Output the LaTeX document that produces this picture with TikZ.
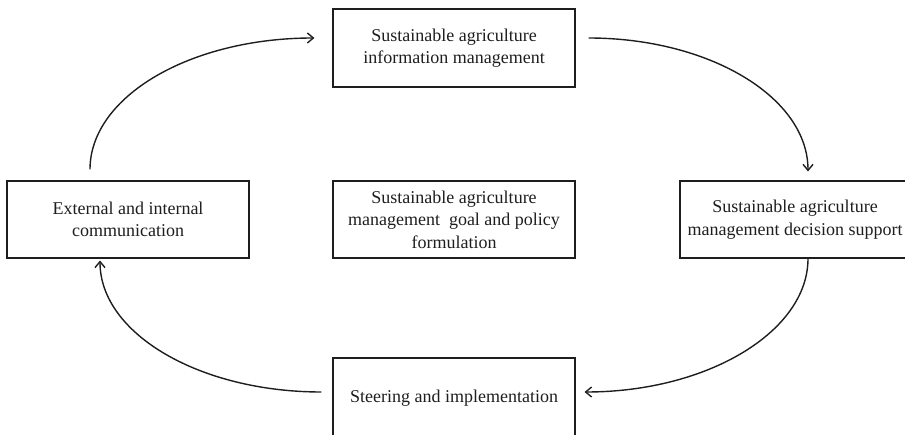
\documentclass[tikz,border=0pt]{standalone}
\usepackage{fontspec}
\setmainfont{Liberation Serif}
\usetikzlibrary{arrows.meta}
\definecolor{ink}{HTML}{1E1E1E}
\tikzset{
  box/.style={draw=ink, line width=1.1pt, text=ink, align=center, inner sep=0pt,
    font=\fontsize{18}{22.5}\selectfont},
  flow/.style={draw=ink, line width=1.4pt, -{Straight Barb[length=6pt,width=10pt]}}
}
\begin{document}
\begin{tikzpicture}[x=1pt,y=-1pt]
\useasboundingbox (0,0) rectangle (905,435);
\node[box, minimum width=242pt, minimum height=78pt] (T) at (454,48)
  {Sustainable agriculture\\information management};
\node[box, minimum width=242pt, minimum height=77pt] (L) at (128,219.5)
  {External and internal\\communication};
\node[box, minimum width=242pt, minimum height=77pt] (M) at (454,219.5)
  {Sustainable agriculture\\management\ \ goal and policy\\formulation};
\node[box, minimum width=230pt, minimum height=77pt] (R) at (795,219.5)
  {Sustainable agriculture\\management decision support};
\node[box, minimum width=242pt, minimum height=80pt] (B) at (454,398)
  {Steering and implementation};
\draw[flow] ([shift={(-38pt,11pt)}]L.north) .. controls +(0,-73) and +(-124,0) .. ([shift={(-18pt,10pt)}]T.west);
\draw[flow] ([shift={(13pt,10pt)}]T.east) .. controls +(121,0) and +(0,-74) .. ([shift={(13pt,9pt)}]R.north);
\draw[flow] ([shift={(13pt,0pt)}]R.south) .. controls +(0,73) and +(123,0) .. ([shift={(9pt,6pt)}]B.east);
\draw[flow] ([shift={(-11pt,6pt)}]B.west) .. controls +(-122,0) and +(0,73) .. ([shift={(-28pt,-2pt)}]L.south);
\end{tikzpicture}
\end{document}
